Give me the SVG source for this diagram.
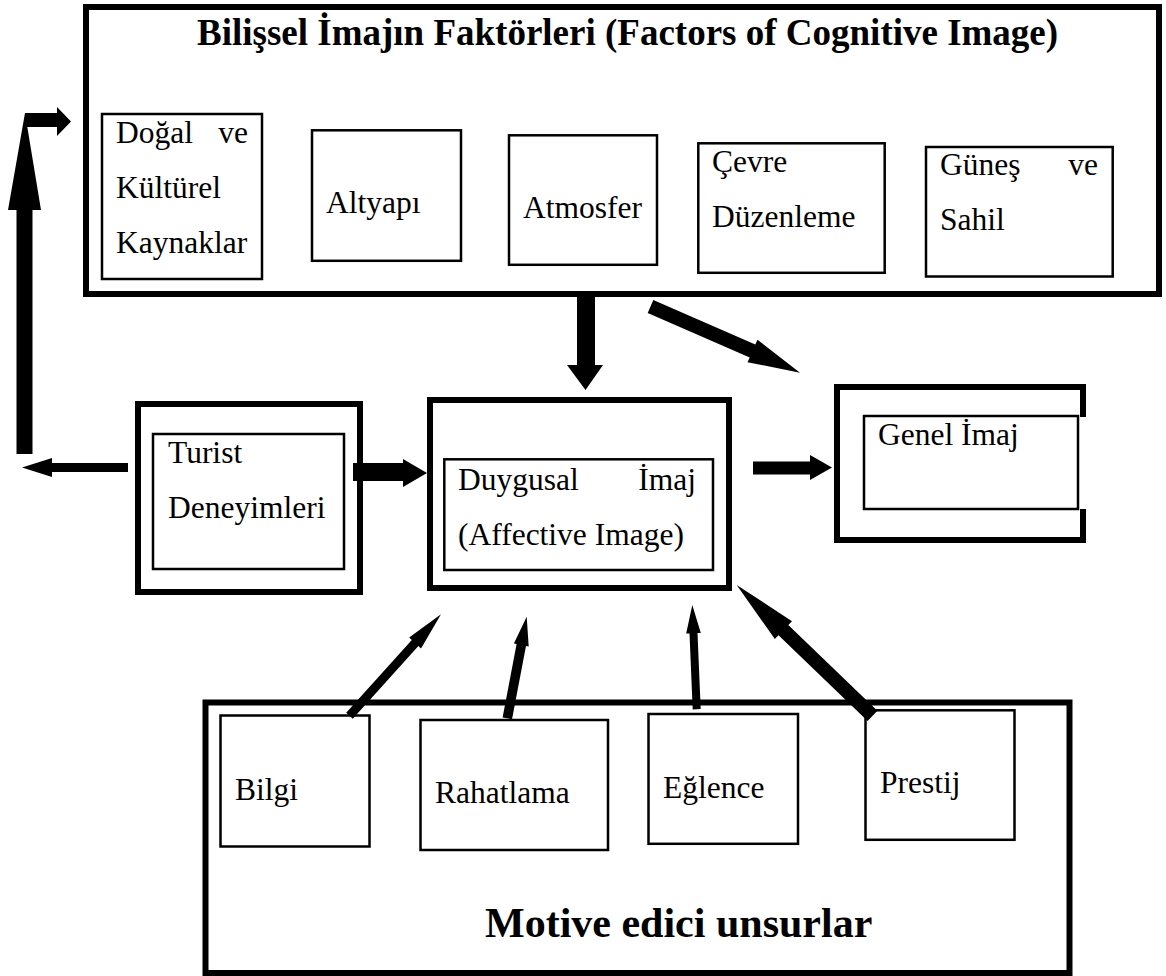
<svg xmlns="http://www.w3.org/2000/svg" width="1166" height="976" viewBox="0 0 1166 976">
  <style>
    text { font-family: "Liberation Serif", "Times New Roman", serif; fill: #000; }
    .lbl { font-size: 31.5px; }
    .ttl { font-size: 37px; font-weight: bold; }
    .ttl2 { font-size: 42px; font-weight: bold; }
    .frame { fill: #fff; stroke: #000; stroke-width: 6; }
    .box { fill: #fff; stroke: #000; stroke-width: 2.5; }
    .arr { fill: #000; stroke: none; }
  </style>
  <rect width="1166" height="976" fill="#fff"/>

  <!-- Cognitive image factors -->
  <g id="cognitive">
    <rect class="frame" x="86" y="7" width="1073" height="287"/>
    <text class="ttl" x="197" y="45">Bilişsel İmajın Faktörleri (Factors of Cognitive Image)</text>
  </g>
  <g id="dogal">
    <rect class="box" x="102" y="114" width="160" height="165"/>
    <text class="lbl" x="116" y="143">Doğal</text>
    <text class="lbl" x="248" y="143" text-anchor="end">ve</text>
    <text class="lbl" x="116" y="198">Kültürel</text>
    <text class="lbl" x="116" y="253">Kaynaklar</text>
  </g>
  <g id="altyapi">
    <rect class="box" x="312" y="130.3" width="149" height="130.5"/>
    <text class="lbl" x="326" y="213">Altyapı</text>
  </g>
  <g id="atmosfer">
    <rect class="box" x="509" y="135.3" width="148" height="129.5"/>
    <text class="lbl" x="523" y="218">Atmosfer</text>
  </g>
  <g id="cevre">
    <rect class="box" x="698.3" y="143.3" width="186.4" height="129.5"/>
    <text class="lbl" x="712" y="172">Çevre</text>
    <text class="lbl" x="712" y="227">Düzenleme</text>
  </g>
  <g id="gunes">
    <rect class="box" x="926" y="147" width="186.7" height="129.5"/>
    <text class="lbl" x="940" y="175">Güneş</text>
    <text class="lbl" x="1098" y="175" text-anchor="end">ve</text>
    <text class="lbl" x="940" y="230">Sahil</text>
  </g>

  <!-- Middle row -->
  <g id="turist">
    <rect class="frame" x="138" y="404" width="222" height="188"/>
    <rect class="box" x="153" y="434" width="191" height="135"/>
    <text class="lbl" x="168" y="463">Turist</text>
    <text class="lbl" x="168" y="518">Deneyimleri</text>
  </g>
  <g id="duygusal">
    <rect class="frame" x="430" y="400" width="299" height="188"/>
    <rect class="box" x="444.3" y="459.3" width="268.7" height="110.7"/>
    <text class="lbl" x="458" y="490">Duygusal</text>
    <text class="lbl" x="696" y="490" text-anchor="end">İmaj</text>
    <text class="lbl" x="458" y="545">(Affective Image)</text>
  </g>
  <g id="genel">
    <rect class="frame" x="837" y="387" width="246" height="153"/>
    <rect x="1079" y="417" width="9" height="92" fill="#fff"/>
    <rect class="box" x="864" y="416" width="214" height="93"/>
    <text class="lbl" x="878" y="445">Genel İmaj</text>
  </g>

  <!-- Motivating factors -->
  <g id="motive">
    <rect class="frame" x="205.5" y="702.5" width="864" height="270.5"/>
    <text class="ttl2" x="485" y="937">Motive edici unsurlar</text>
  </g>
  <g id="bilgi">
    <rect class="box" x="220.5" y="715.5" width="149" height="131"/>
    <text class="lbl" x="235" y="800">Bilgi</text>
  </g>
  <g id="rahatlama">
    <rect class="box" x="420.5" y="720" width="187.5" height="130"/>
    <text class="lbl" x="435" y="803">Rahatlama</text>
  </g>
  <g id="eglence">
    <rect class="box" x="648.5" y="714" width="149.5" height="129.8"/>
    <text class="lbl" x="663" y="798">Eğlence</text>
  </g>
  <g id="prestij">
    <rect class="box" x="865.5" y="710.3" width="149" height="129.5"/>
    <text class="lbl" x="880" y="793">Prestij</text>
  </g>

  <!-- Connectors -->
  <g id="connectors" class="arr">
    <!-- cognitive -> affective -->
    <polygon points="577,297 595,297 595,365 603,365 585.5,390 567,365 577,365"/>
    <!-- cognitive -> overall -->
    <polygon points="653.3,300.1 755.3,344.6 757.5,339.8 800,372.7 747.5,362.2 749.7,357.4 647.7,312.9"/>
    <!-- experiences -> affective -->
    <polygon points="353,463 403,463 403,459 427,473 403,487 403,481 353,481"/>
    <!-- affective -> overall -->
    <polygon points="753,461.5 810,461.5 810,455 832,467.5 810,480 810,474.5 753,474.5"/>
    <!-- experiences feedback loop -->
    <polygon points="128,463 52,463 52,458 22,467.5 52,477 52,472 128,472"/>
    <polygon points="16.5,454 16.5,210 8,210 25,113 41,210 32.5,210 32.5,454"/>
    <polygon points="25,113 57,113 57,107 71,121.5 57,136 57,127 25,127"/>
    <!-- motivating factors -> affective -->
    <polygon points="352.8,718.8 418.4,646 421,648.4 441,614.3 409.2,637.6 411.8,640 346.2,712.8"/>
    <polygon points="512,719.2 526,645.9 528.7,646.4 526.7,616.7 513.9,643.6 516.6,644.1 502.6,717.4"/>
    <polygon points="700.7,709.1 697.5,633.1 700.8,633 692.3,605 686.2,633.6 689.5,633.5 692.7,709.5"/>
    <polygon points="877.4,710.8 788.3,625 792,621.2 736.7,585 774.8,639 778.5,635.2 867.6,721"/>
  </g>
</svg>
